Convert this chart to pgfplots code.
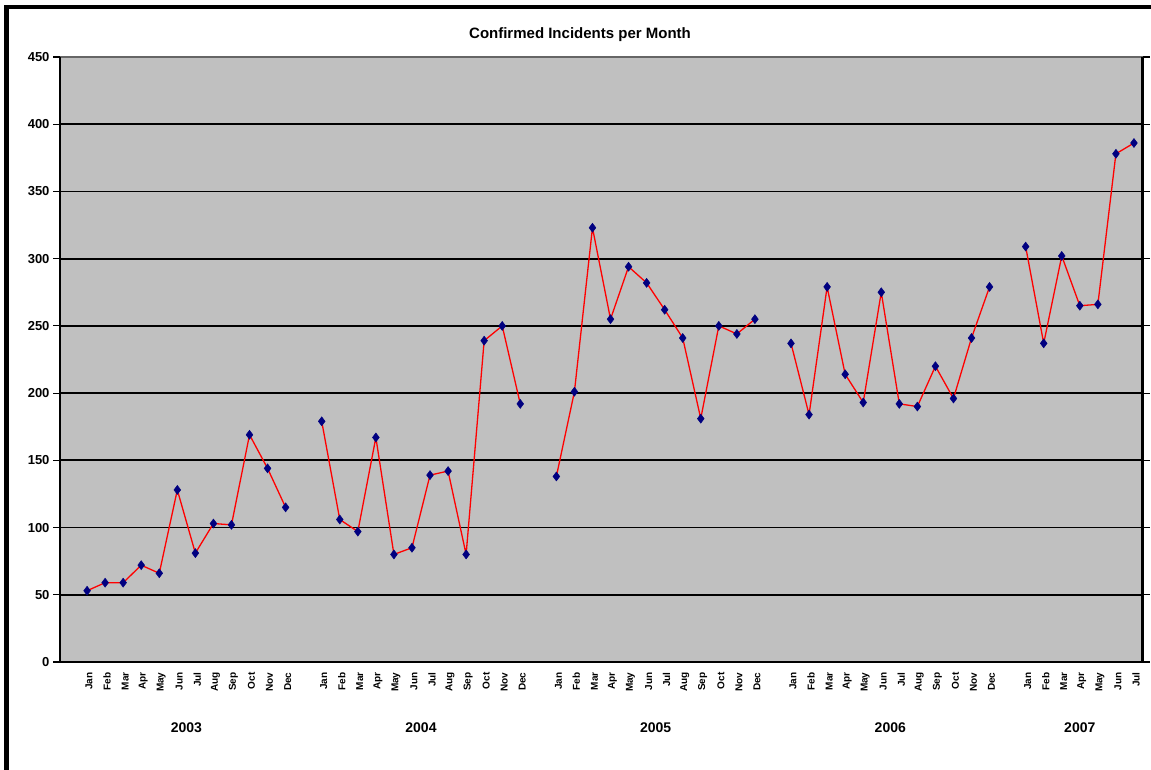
\documentclass[border=0pt]{standalone}
\usepackage{fontspec}
\setmainfont{Liberation Sans}
\usepackage{pgfplots}
\pgfplotsset{compat=1.18}
\usepackage{pgfplotstable}
\definecolor{plotgray}{RGB}{192,192,192}
\definecolor{mknavy}{RGB}{0,0,128}
\pgfplotstableread{
x y
1 53
2 59
3 59
4 72
5 66
6 128
7 81
8 103
9 102
10 169
11 144
12 115
13 nan
14 179
15 106
16 97
17 167
18 80
19 85
20 139
21 142
22 80
23 239
24 250
25 192
26 nan
27 138
28 201
29 323
30 255
31 294
32 282
33 262
34 241
35 181
36 250
37 244
38 255
39 nan
40 237
41 184
42 279
43 214
44 193
45 275
46 192
47 190
48 220
49 196
50 241
51 279
52 nan
53 309
54 237
55 302
56 265
57 266
58 378
59 386
}\incidents
\begin{document}
\begin{tikzpicture}[x=1pt,y=1pt]
\path[use as bounding box] (0,0) rectangle (1151,770);
\draw[line width=4.5pt] (6.5,-20) -- (6.5,763) -- (1170,763);
\node[font=\fontsize{15}{17}\selectfont\bfseries] at (580,735) {Confirmed Incidents per Month};
\begin{axis}[
  at={(60pt,108pt)}, anchor=south west,
  scale only axis, width=1083pt, height=605pt,
  xmin=-0.5, xmax=59.5, ymin=0, ymax=450,
  axis background/.style={fill=plotgray},
  axis line style={draw=none},
  ytick={0,50,...,450},
  ymajorgrids, major grid style={black, line width=1.8pt},
  tick align=outside, major tick length=7pt,
  ytick style={black, line width=1.2pt},
  xtick={1,...,12,14,15,...,25,27,28,...,38,40,41,...,51,53,54,...,59},
  xticklabels={Jan,Feb,Mar,Apr,May,Jun,Jul,Aug,Sep,Oct,Nov,Dec,
               Jan,Feb,Mar,Apr,May,Jun,Jul,Aug,Sep,Oct,Nov,Dec,
               Jan,Feb,Mar,Apr,May,Jun,Jul,Aug,Sep,Oct,Nov,Dec,
               Jan,Feb,Mar,Apr,May,Jun,Jul,Aug,Sep,Oct,Nov,Dec,
               Jan,Feb,Mar,Apr,May,Jun,Jul},
  xtick style={draw=none},
  xticklabel style={rotate=90, anchor=east, font=\fontsize{10}{10}\selectfont\bfseries, yshift=-2pt},
  yticklabel style={font=\fontsize{13}{14}\selectfont\bfseries},
  /pgf/number format/assume math mode=true,
  unbounded coords=jump,
  clip=false,
]
\addplot[red, line width=1.3pt, mark=diamond*, mark size=4.5pt,
  mark options={fill=mknavy, draw=mknavy, line width=0.5pt}] table[x=x,y=y] {\incidents};
\draw[line width=1.2pt, black!60] (rel axis cs:0,1) -- (rel axis cs:1,1);
\draw[line width=3pt, black] (rel axis cs:1,1) -- (rel axis cs:1,0);
\draw[line width=2.5pt, black] (rel axis cs:1.0014,0) -- (rel axis cs:0,0);
\draw[line width=1.8pt, black] (rel axis cs:0,0) -- (rel axis cs:0,1);
\node[font=\fontsize{14}{14}\selectfont\bfseries] at (axis cs:6.5,0) [yshift=-66pt] {2003};
\node[font=\fontsize{14}{14}\selectfont\bfseries] at (axis cs:19.5,0) [yshift=-66pt] {2004};
\node[font=\fontsize{14}{14}\selectfont\bfseries] at (axis cs:32.5,0) [yshift=-66pt] {2005};
\node[font=\fontsize{14}{14}\selectfont\bfseries] at (axis cs:45.5,0) [yshift=-66pt] {2006};
\node[font=\fontsize{14}{14}\selectfont\bfseries] at (axis cs:56,0) [yshift=-66pt] {2007};
\end{axis}
\end{tikzpicture}
\end{document}
